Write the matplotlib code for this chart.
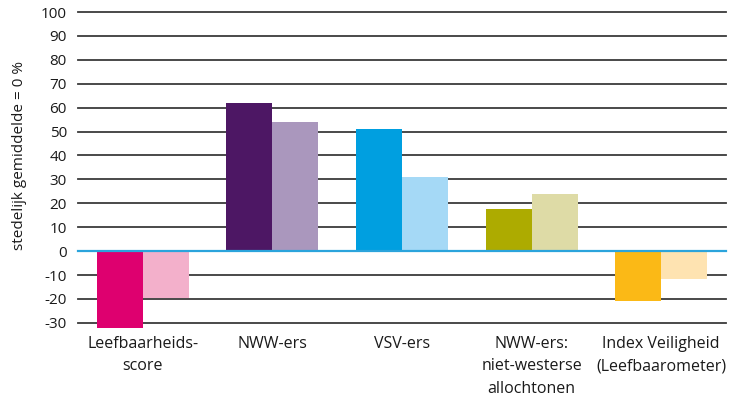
import numpy as np
import matplotlib.pyplot as plt

plt.rcParams['font.family'] = ['Open Sans', 'DejaVu Sans']

categorieen = ['Leefbaarheids-\nscore', 'NWW-ers', 'VSV-ers',
               'NWW-ers:\nniet-westerse\nallochtonen',
               'Index Veiligheid\n(Leefbaarometer)']
waarde_donker = [-32, 62, 51, 17.5, -21]
waarde_licht = [-19.5, 54, 31, 24, -11.5]
yticks = np.arange(-30, 101, 10)

kleur_donker = ['#de006f', '#4d1764', '#009fe0', '#adab00', '#fbb916']
kleur_licht = ['#f3b0cb', '#aa97bd', '#a5d9f6', '#dedba6', '#fee3b1']

fig = plt.figure(figsize=(7.32, 4.01), dpi=100)
ax = fig.add_axes([0.1066, 1 - 330 / 401, 0.8852, (330 - 12) / 401])

x = np.arange(len(categorieen))
w = 0.355
ax.bar(x - w / 2, waarde_donker, w, color=kleur_donker, zorder=2)
ax.bar(x + w / 2, waarde_licht, w, color=kleur_licht, zorder=2)

## horizontale lijnen
for t in yticks:
    if t == 0:
        ax.axhline(t, color='#2ba4dc', lw=1.6, zorder=3, clip_on=False)
    else:
        ax.axhline(t, color='#3a3a3a', lw=1.3, zorder=1, clip_on=False)

ax.set_xlim(-0.5, len(categorieen) - 0.5)
ax.set_ylim(-33, 100)
ax.set_yticks(yticks)
ax.set_yticklabels([str(t) for t in yticks], fontsize=11, color='#1a1a1a')
ax.set_xticks(x)
ax.set_xticklabels(categorieen, fontsize=11.5, color='#1a1a1a',
                   linespacing=1.55)
ax.tick_params(axis='both', length=0)
ax.tick_params(axis='y', pad=8)
ax.tick_params(axis='x', pad=4)
for s in ax.spines.values():
    s.set_visible(False)

ax.set_ylabel('stedelijk gemiddelde = 0 %', fontsize=11, color='#1a1a1a')
ax.yaxis.set_label_coords(-0.078, 0.55)

fig.savefig('out.png', dpi=100)
